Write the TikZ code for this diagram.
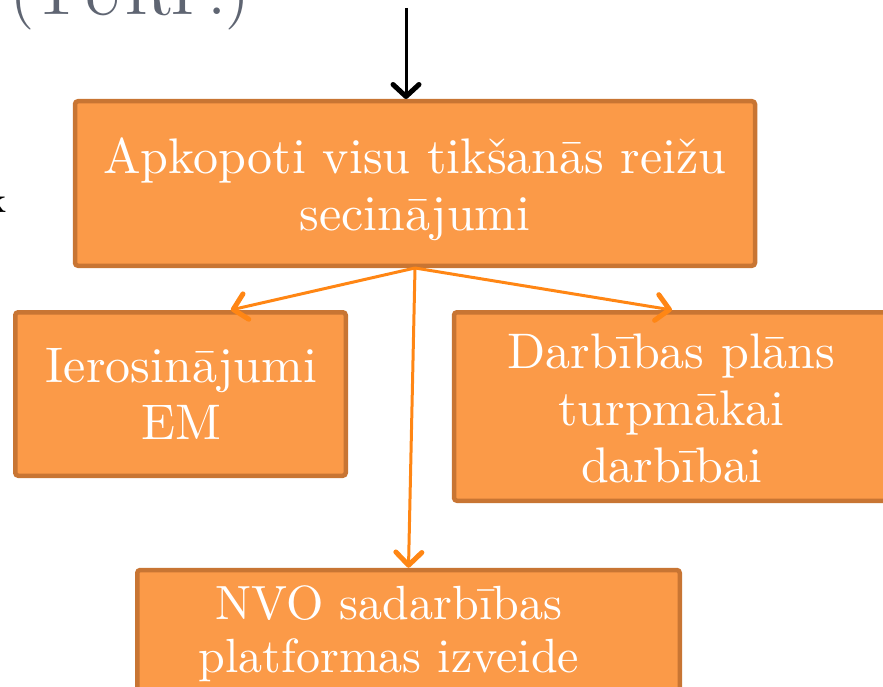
\documentclass[tikz,border=0pt]{standalone}
\usepackage{fontspec}
\setmainfont{lmroman10-regular.otf}
\usetikzlibrary{calc,arrows.meta}

\definecolor{kasteFill}{HTML}{FB9A48}
\definecolor{kasteMala}{HTML}{C87533}
\definecolor{bultaKrasa}{HTML}{FF8614}
\definecolor{virsraksts}{HTML}{5F6572}

\tikzset{
	kaste/.style={draw=kasteMala, fill=kasteFill, line width=4.5pt, rounded corners=3pt, inner sep=0pt},
	uzraksts/.style={text=white, align=center, inner sep=0pt, font=\fontsize{50}{57}\selectfont},
	bultaOr/.style={draw=bultaKrasa, line width=3pt, -{Straight Barb[length=13pt, width=26pt, line width=5pt, round]}},
	bultaMelna/.style={draw=black, line width=3pt, -{Straight Barb[length=12pt, width=26pt, line width=5pt, round]}}
}

\begin{document}
\begin{tikzpicture}[x=1pt, y=-1pt]
			%%%%% START %%%%%
			\useasboundingbox (0, 0) rectangle (883, 687);
			\clip (0, 0) rectangle (883, 687);
			
			\node[anchor=base west, inner sep=0pt, text=virsraksts, font=\fontsize{62}{70}\selectfont] (turp) at (10, 15) {(TURP.)};
			\node[anchor=base east, inner sep=0pt, font=\fontsize{36}{40}\selectfont] (burts) at (7, 212) {k};
			
			% kastes
			\node[kaste, minimum width=680pt, minimum height=164.5pt] (apkopoti) at (415, 183.5) {};
			\node[kaste, minimum width=330.5pt, minimum height=163.5pt] (ierosinajumi) at (180.5, 394) {};
			\node[kaste, minimum width=436pt, minimum height=188.5pt] (plans) at (672, 406.5) {};
			\node[kaste, minimum width=542.5pt, minimum height=140pt] (platforma) at (408.5, 640) {};
			
			% teksti
			\node[uzraksts] (apkopotiTxt) at (415, 189.3) {Apkopoti visu tikšanās reižu\\secinājumi};
			\node[uzraksts] (ierosinajumiTxt) at (181.5, 394.4) {Ierosinājumi\\EM};
			\node[uzraksts] (plansTxt) at (671.5, 408.2) {Darbības plāns\\turpmākai\\darbībai};
			\node[uzraksts, font=\fontsize{48}{53}\selectfont] (platformaTxt) at (389, 634) {NVO sadarbības\\platformas izveide};
			
			% bultas
			\coordinate (augsa) at (406, 8);
			\draw[bultaMelna] (augsa) -- (augsa |- apkopoti.north);
			
			\draw[bultaOr] (apkopoti.south) -- ($(ierosinajumi.north west)!0.65!(ierosinajumi.north east)$);
			\draw[bultaOr] (apkopoti.south) -- (plans.north);
			\draw[bultaOr] (apkopoti.south) -- (platforma.north);
			
			%%%%% END %%%%%
\end{tikzpicture}
\end{document}
